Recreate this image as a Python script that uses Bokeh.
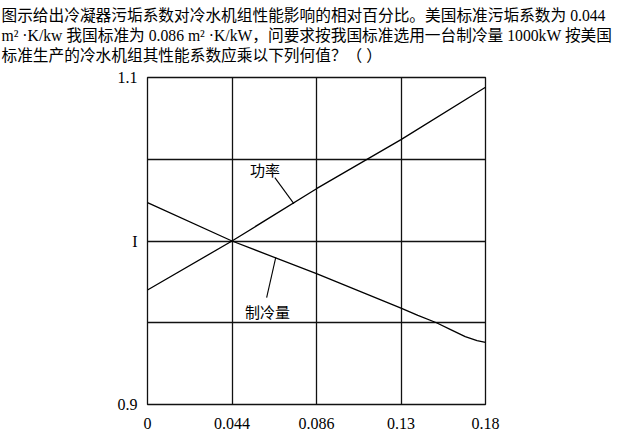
import numpy as np
from bokeh.plotting import figure
from bokeh.models import Range1d, FixedTicker
from bokeh.core.properties import value
from bokeh.embed import file_html
from bokeh.resources import INLINE

# ---- data ----
header_lines = [
    "图示给出冷凝器污垢系数对冷水机组性能影响的相对百分比。美国标准污垢系数为 0.044",
    "m² ·K/kw 我国标准为 0.086 m² ·K/kW，问要求按我国标准选用一台制冷量 1000kW 按美国",
    "标准生产的冷水机组其性能系数应乘以下列何值？（  ）",
]
fouling_ticks = [0, 0.044, 0.086, 0.13, 0.18]
fouling_labels = ["0", "0.044", "0.086", "0.13", "0.18"]
ratio_ticks = [0.9, 1.0, 1.1]
ratio_labels = ["0.9", "I", "1.1"]
ratio_grid = [0.9, 0.95, 1.0, 1.05, 1.1]

power_x = [0, 0.044, 0.086, 0.13, 0.18]
power_y = [0.970, 1.000, 1.032, 1.062, 1.094]

cap_x = [0, 0.044, 0.086, 0.13, 0.14, 0.151, 0.160, 0.168, 0.175, 0.18]
cap_y = [1.0235, 1.000, 0.980, 0.959, 0.9545, 0.950, 0.9455, 0.9415, 0.939, 0.938]

series_names = ["功率", "制冷量"]

# the chart's x axis places the fouling ticks at equal spacing
grid_pos = list(range(len(fouling_ticks)))


def to_grid(x):
    return np.interp(x, fouling_ticks, grid_pos)


CJK = "Noto Sans CJK SC"
SERIF = "Liberation Serif"
MIXED = "Liberation Serif, Noto Sans CJK SC"

p = figure(width=621, height=452, output_backend="svg", toolbar_location=None,
           x_range=Range1d(0, 4), y_range=Range1d(0.9, 1.1),
           min_border_left=151, min_border_right=132,
           min_border_top=91, min_border_bottom=34,
           margin=(-14, -4, -4, -4),
           background_fill_color="white", border_fill_color="white",
           outline_line_color="#111111", outline_line_width=1.3)

# header text as a multi-line title
p.title.text = "\n".join(header_lines)
p.title.align = "left"
p.title.offset = -146
p.title.text_font = MIXED
p.title.text_font_size = "15.7px"
p.title.text_font_style = "normal"
p.title.text_color = "black"
p.title.text_line_height = 1.18
p.title.standoff = 27

# axes
p.xaxis.ticker = FixedTicker(ticks=grid_pos)
p.xaxis.major_label_overrides = {i: lab for i, lab in zip(grid_pos, fouling_labels)}
p.yaxis.ticker = FixedTicker(ticks=ratio_ticks)
p.yaxis.major_label_overrides = {v: lab for v, lab in zip(ratio_ticks, ratio_labels)}
for ax in (p.xaxis, p.yaxis):
    ax.axis_line_color = None
    ax.major_tick_line_color = None
    ax.minor_tick_line_color = None
    ax.major_label_text_font = SERIF
    ax.major_label_text_font_size = "16px"
    ax.major_label_text_color = "black"
p.xaxis.major_label_standoff = 7
p.yaxis.major_label_standoff = 4

# grid
p.xgrid.ticker = FixedTicker(ticks=grid_pos)
p.ygrid.ticker = FixedTicker(ticks=ratio_grid)
for g in (p.xgrid, p.ygrid):
    g.grid_line_color = "#111111"
    g.grid_line_width = 1.3
    g.grid_line_alpha = 1.0

# curves
p.line(to_grid(power_x), power_y, line_color="black", line_width=1.3)
p.line(to_grid(cap_x), cap_y, line_color="black", line_width=1.3)

# labels with leader lines
p.text(x=[1.39, 1.42], y=[1.0437, 0.9569], text=series_names,
       text_font=value(CJK), text_font_size="15px", text_color="black",
       text_align="center", text_baseline="middle")
p.segment(x0=[1.507, 1.518], y0=[1.0388, 0.990], x1=[1.732, 1.41], y1=[1.0229, 0.9654],
          line_color="black", line_width=1.1)

open("out.html", "w").write(file_html(p, INLINE))
